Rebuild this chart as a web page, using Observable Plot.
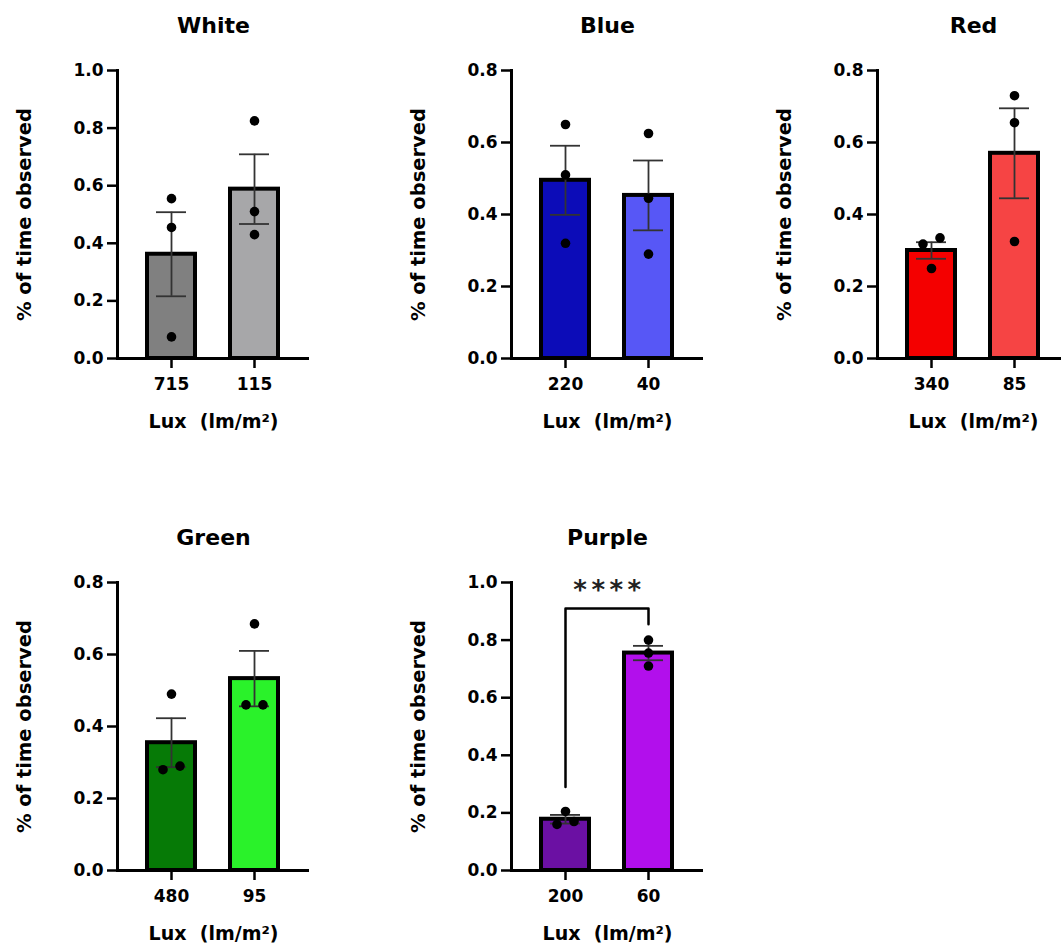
<!DOCTYPE html>
<html>
<head>
<meta charset="utf-8">
<script src="https://cdn.jsdelivr.net/npm/d3@7"></script>
<script src="https://cdn.jsdelivr.net/npm/@observablehq/plot@0.6"></script>
<style>
  html, body { margin: 0; padding: 0; background: #fff; overflow: hidden; }
  #chart { position: relative; width: 1061px; height: 948px; overflow: hidden; }
  .panel { position: absolute; width: 340px; height: 440px; }
  .panel svg { max-width: none !important; }
  .stars text { letter-spacing: 4.5px; }
</style>
</head>
<body>
<div id="chart"></div>
<script>
// ---- data ----
const panelNames = ["White", "Blue", "Red", "Green", "Purple"];
const luxLabels = [["715", "115"], ["220", "40"], ["340", "85"], ["480", "95"], ["200", "60"]];
const barMeans = [[0.362, 0.588], [0.495, 0.453], [0.300, 0.570], [0.355, 0.533], [0.178, 0.755]];
const barSems  = [[0.146, 0.121], [0.096, 0.097], [0.023, 0.125], [0.068, 0.077], [0.015, 0.025]];
const pointValues = [
  [[0.555, 0.455, 0.075], [0.825, 0.510, 0.430]],
  [[0.650, 0.510, 0.320], [0.625, 0.445, 0.290]],
  [[0.335, 0.318, 0.250], [0.730, 0.655, 0.325]],
  [[0.490, 0.290, 0.280], [0.685, 0.460, 0.460]],
  [[0.205, 0.170, 0.160], [0.800, 0.755, 0.710]]
];
const yMax = [1.0, 0.8, 0.8, 0.8, 1.0];
const yTickValues = [[0, 0.2, 0.4, 0.6, 0.8, 1.0], [0, 0.2, 0.4, 0.6, 0.8], [0, 0.2, 0.4, 0.6, 0.8], [0, 0.2, 0.4, 0.6, 0.8], [0, 0.2, 0.4, 0.6, 0.8, 1.0]];
const barPalette = [["#808080", "#a7a7a9"], ["#0c0cb8", "#5757f6"], ["#f40000", "#f64444"], ["#067a06", "#2af22a"], ["#6b10a3", "#b20fec"]];
// significance bracket (Purple panel only): group, y
const sigPanel = 4;
const sigGroups = ["200", "200", "60", "60"];
const sigLevels = [0.29, 0.91, 0.91, 0.855];
const sigLabel = "****";
const sigLabelY = 0.972;
const xLabel = "Lux  (lm/m²)";
const yLabel = "% of time observed";

// ---- layout ----
const panelPos = [[0, 0], [394, 0], [760, 0], [0, 512], [394, 512]];
const FRAME_H = 288;

const chart = document.getElementById("chart");

function makePanel(i) {
  const groups = luxLabels[i];
  const bars = groups.map((g, j) => ({
    g, mean: barMeans[i][j],
    lo: barMeans[i][j] - barSems[i][j],
    hi: barMeans[i][j] + barSems[i][j],
    color: barPalette[i][j]
  }));
  // simple GraphPad-like dodge: points closer than ~9px are spread sideways
  const pts = [];
  const pxPerUnit = FRAME_H / yMax[i];
  groups.forEach((g, j) => {
    const sorted = pointValues[i][j].slice().sort((a, b) => b - a);
    let k = 0;
    while (k < sorted.length) {
      const cluster = [sorted[k]];
      while (k + cluster.length < sorted.length &&
             (cluster[cluster.length - 1] - sorted[k + cluster.length]) * pxPerUnit < 9) {
        cluster.push(sorted[k + cluster.length]);
      }
      const sides = cluster.length === 1 ? [0] : cluster.length === 2 ? [1, -1] : [-1, 0, 1];
      cluster.forEach((v, c) => pts.push({g, v, side: sides[c]}));
      k += cluster.length;
    }
  });
  const dotMarks = [-1, 0, 1].map(s =>
    Plot.dot(pts.filter(d => d.side === s), {x: "g", y: "v", r: 4.8, fill: "black", stroke: "none", dx: s * 8.5})
  );
  const marks = [
    Plot.barY(bars, {x: "g", y: "mean", fill: "color", stroke: "black", strokeWidth: 4, insetLeft: 2, insetRight: 2}),
    Plot.ruleX(bars, {x: "g", y1: "lo", y2: "hi", stroke: "#333", strokeWidth: 1.8}),
    Plot.tickY(bars, {x: "g", y: "lo", stroke: "#333", strokeWidth: 1.8, insetLeft: 11, insetRight: 11}),
    Plot.tickY(bars, {x: "g", y: "hi", stroke: "#333", strokeWidth: 1.8, insetLeft: 11, insetRight: 11}),
    ...dotMarks,
    Plot.ruleY([0], {stroke: "black", strokeWidth: 3}),
    Plot.frame({anchor: "left", stroke: "black", strokeWidth: 3}),
    Plot.axisX({tickSize: 10, tickPadding: 9, strokeWidth: 2.5, label: null, fontSize: 17, fontWeight: "bold"}),
    Plot.axisY({ticks: yTickValues[i], tickFormat: d3.format(".1f"), tickSize: 10, tickPadding: 4, strokeWidth: 2.5, label: null, fontSize: 17, fontWeight: "bold"}),
    Plot.text([panelNames[i]], {text: d => d, frameAnchor: "top", textAnchor: "middle", lineAnchor: "middle", dy: -45, fontSize: 22, fontWeight: "bold"}),
    Plot.text([xLabel], {text: d => d, frameAnchor: "bottom", textAnchor: "middle", lineAnchor: "middle", dy: 63, fontSize: 19, fontWeight: "bold"}),
    Plot.text([yLabel], {text: d => d, frameAnchor: "left", textAnchor: "middle", lineAnchor: "middle", rotate: -90, dx: -93, fontSize: 19.5, fontWeight: "bold"})
  ];
  if (i === sigPanel) {
    const bracket = sigGroups.map((g, k) => ({g, y: sigLevels[k]}));
    marks.push(Plot.line(bracket, {x: "g", y: "y", stroke: "black", strokeWidth: 2.5, curve: "linear"}));
    marks.push(Plot.text([{y: sigLabelY, label: sigLabel}], {y: "y", text: "label", lineAnchor: "middle", fontSize: 26, fontWeight: "bold", fill: "#222", dx: 2, className: "stars"}));
  }
  const svg = Plot.plot({
    width: 340, height: 440,
    marginLeft: 117, marginRight: 31, marginTop: 70, marginBottom: 82,
    style: {fontFamily: "'DejaVu Sans', sans-serif", fontSize: "17px", fontWeight: "bold", color: "black", background: "transparent", overflow: "visible", maxWidth: "none"},
    x: {type: "band", domain: groups, paddingInner: 0.373, paddingOuter: 0.343},
    y: {domain: [0, yMax[i]]},
    color: {type: "identity"},
    marks
  });
  const div = document.createElement("div");
  div.className = "panel";
  div.style.left = panelPos[i][0] + "px";
  div.style.top = panelPos[i][1] + "px";
  div.appendChild(svg);
  chart.appendChild(div);
}

panelNames.forEach((_, i) => makePanel(i));
</script>
</body>
</html>
